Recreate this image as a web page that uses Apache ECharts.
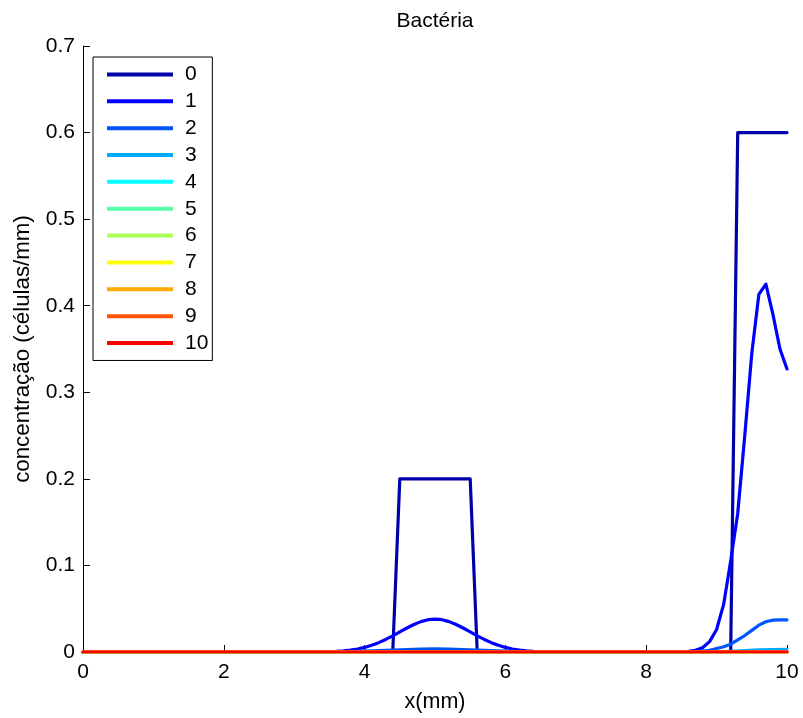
<!DOCTYPE html>
<html>
<head>
<meta charset="utf-8">
<script src="https://cdn.jsdelivr.net/npm/echarts@6/dist/echarts.min.js"></script>
<style>
  html, body { margin: 0; padding: 0; background: #fff; }
  #chart { width: 803px; height: 718px; }
</style>
</head>
<body>
<div id="chart"></div>
<script>
// Bacterial concentration profiles along x for time steps 0..10

const seriesNames = ['0', '1', '2', '3', '4', '5', '6', '7', '8', '9', '10'];
const seriesColors = ['#0000A8', '#0000FF', '#0055FF', '#00AAFF', '#00FFFF', '#55FFAA',
                      '#AAFF55', '#FFFF00', '#FFAA00', '#FF5500', '#FF0000'];

// step 0: initial condition (two blocks)
const x0 = [0, 4.4, 4.5, 5.5, 5.6, 9.2, 9.3, 10];
const y0 = [0, 0, 0.2, 0.2, 0, 0, 0.6, 0.6];

// step 1
const x1 = [0, 3.3, 3.4, 3.5, 3.6, 3.7, 3.8, 3.9, 4.0, 4.1, 4.2, 4.3, 4.4, 4.5, 4.6, 4.7, 4.8, 4.9,
            5.0, 5.1, 5.2, 5.3, 5.4, 5.5, 5.6, 5.7, 5.8, 5.9, 6.0, 6.1, 6.2, 6.3, 6.4, 6.5, 6.6, 6.7,
            8.4, 8.5, 8.6, 8.7, 8.8, 8.9, 9.0, 9.1, 9.2, 9.3, 9.4, 9.5, 9.6, 9.7, 9.8, 9.9, 10];
const y1 = [0, 0, 0.0002, 0.0005, 0.0008, 0.0014, 0.0022, 0.0035, 0.0053, 0.0077, 0.0108, 0.0145,
            0.0187, 0.0232, 0.0277, 0.0318, 0.0351, 0.0373,
            0.038, 0.0373, 0.0351, 0.0318, 0.0277, 0.0232, 0.0187, 0.0145, 0.0108, 0.0077, 0.0053,
            0.0035, 0.0022, 0.0014, 0.0008, 0.0005, 0.0002, 0,
            0, 0.0003, 0.0008, 0.002, 0.005, 0.012, 0.026, 0.055, 0.105, 0.16, 0.25, 0.345,
            0.413, 0.425, 0.39, 0.35, 0.327];

// step 2
const x2 = [0, 3.2, 3.4, 3.6, 3.8, 4.0, 4.2, 4.4, 4.6, 4.8, 5.0, 5.2, 5.4, 5.6, 5.8, 6.0, 6.2, 6.4,
            6.6, 6.8, 8.6, 8.8, 8.9, 9.0, 9.1, 9.2, 9.3, 9.4, 9.5, 9.6, 9.7, 9.8, 9.9, 10];
const y2 = [0, 0, 0.0001, 0.0003, 0.0006, 0.0011, 0.0016, 0.0023, 0.0029, 0.0033, 0.0035, 0.0033,
            0.0029, 0.0023, 0.0016, 0.0011, 0.0006, 0.0003, 0.0001, 0,
            0, 0.001, 0.002, 0.004, 0.006, 0.009, 0.014, 0.019, 0.025, 0.031, 0.035, 0.0368,
            0.0372, 0.0372];

// step 3
const x3 = [0, 8.8, 9.0, 9.2, 9.4, 9.6, 9.8, 10];
const y3 = [0, 0, 0.0003, 0.0008, 0.0016, 0.0024, 0.0029, 0.003];

// steps 4..10: flat at zero on this scale
const xFlat = [0, 10];
const yFlat = [0, 0];

const xValues = [x0, x1, x2, x3, xFlat, xFlat, xFlat, xFlat, xFlat, xFlat, xFlat];
const yValues = [y0, y1, y2, y3, yFlat, yFlat, yFlat, yFlat, yFlat, yFlat, yFlat];

const xTicks = { min: 0, max: 10, interval: 2 };
const yTicks = { min: 0, max: 0.7, interval: 0.1 };

const FONT = '"Liberation Sans", Arial, Helvetica, sans-serif';

const series = seriesNames.map((name, i) => ({
  name: name,
  type: 'line',
  data: xValues[i].map((x, k) => [x, yValues[i][k]]),
  showSymbol: false,
  symbol: 'none',
  color: seriesColors[i],
  lineStyle: { width: 3.2, color: seriesColors[i], join: 'round', cap: 'round' },
  emphasis: { disabled: true },
  silent: true,
  z: 2
}));

const chart = echarts.init(document.getElementById('chart'), null, { renderer: 'canvas' });
chart.setOption({
  animation: false,
  backgroundColor: '#ffffff',
  textStyle: { fontFamily: FONT },
  title: {
    text: 'Bactéria',
    left: 435,
    top: 11,
    padding: 0,
    textAlign: 'center',
    textStyle: { fontFamily: FONT, fontSize: 21, fontWeight: 'normal', color: '#000' }
  },
  grid: { left: 83, right: 16, top: 46, bottom: 59, containLabel: false },
  legend: {
    orient: 'vertical',
    left: 93,
    top: 57,
    padding: [4, 4, 4, 14],
    itemGap: 0,
    itemWidth: 66,
    itemHeight: 4,
    icon: 'rect',
    selectedMode: false,
    borderColor: '#000',
    borderWidth: 1,
    backgroundColor: '#fff',
    data: seriesNames,
    textStyle: { fontFamily: FONT, fontSize: 21, color: '#000', lineHeight: 26.86, padding: [0, 0, 0, 7] }
  },
  xAxis: {
    type: 'value',
    min: xTicks.min,
    max: xTicks.max,
    interval: xTicks.interval,
    name: 'x(mm)',
    nameLocation: 'middle',
    nameGap: 39,
    nameTextStyle: { fontFamily: FONT, fontSize: 21.5, color: '#000' },
    axisLine: { onZero: false, lineStyle: { color: '#000', width: 1 } },
    axisTick: { inside: true, length: 7, lineStyle: { color: '#000' } },
    axisLabel: { fontFamily: FONT, fontSize: 21, color: '#000', margin: 10 },
    splitLine: { show: false }
  },
  yAxis: {
    type: 'value',
    min: yTicks.min,
    max: yTicks.max,
    interval: yTicks.interval,
    name: 'concentração (células/mm)',
    nameLocation: 'middle',
    nameGap: 49,
    nameRotate: 90,
    nameTextStyle: { fontFamily: FONT, fontSize: 22.3, color: '#000' },
    axisLine: { show: true, onZero: false, lineStyle: { color: '#000', width: 1 } },
    axisTick: { show: true, inside: true, length: 7, lineStyle: { color: '#000' } },
    axisLabel: {
      fontFamily: FONT, fontSize: 21, color: '#000', margin: 8,
      formatter: v => (v === 0 ? '0' : v.toFixed(1))
    },
    splitLine: { show: false }
  },
  series: series
});
</script>
</body>
</html>
